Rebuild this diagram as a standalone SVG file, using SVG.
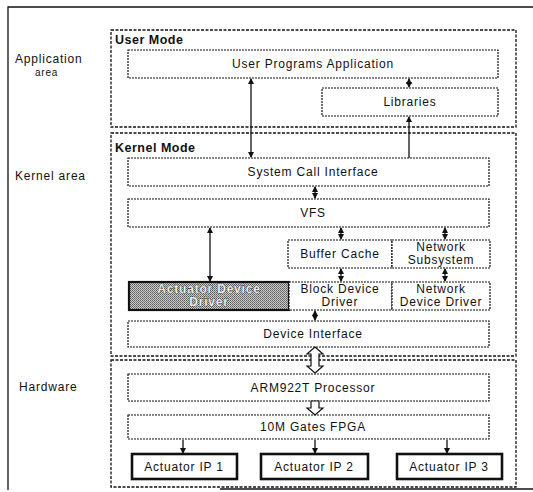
<svg xmlns="http://www.w3.org/2000/svg" width="533" height="492" viewBox="0 0 533 492">
<style>
text{font-family:"Liberation Sans",Arial,sans-serif;font-size:12px;fill:#111;letter-spacing:0.8px}
.c{text-anchor:middle}
.b{font-weight:bold;font-size:12.5px;letter-spacing:0.5px}
.w{fill:#eee;stroke:#111;stroke-width:0.7;paint-order:stroke;font-weight:bold}
.box{fill:#fff;stroke:#111;stroke-width:1.2;stroke-dasharray:2,1}
.grp{fill:#fff;stroke:#111;stroke-width:1.3;stroke-dasharray:3,1.5}
.ip{fill:#fff;stroke:#111;stroke-width:2.6}
.ln{stroke:#111;stroke-width:1.3;fill:none}
.hol{fill:#fff;stroke:#111;stroke-width:1.2}
</style>
<defs>
<marker id="ah" markerWidth="6" markerHeight="6" refX="5" refY="3" orient="auto-start-reverse" markerUnits="userSpaceOnUse">
<path d="M0,0 L6,3 L0,6 Z" fill="#111"/>
</marker>
<pattern id="dith" width="2" height="2" patternUnits="userSpaceOnUse">
<rect width="2" height="2" fill="#d0d0d0"/>
<rect width="1" height="1" fill="#555"/>
<rect x="1" y="1" width="1" height="1" fill="#777"/>
</pattern>
</defs>
<rect width="533" height="492" fill="#fff"/>
<g id="frame">
<path d="M8,490 L8,7 L533,7" class="ln" stroke-width="2"/>
<path d="M220,489 L533,489" class="ln" stroke-width="2"/>
</g>
<g id="labels">
<text x="15" y="63">Application</text>
<text x="35" y="76" style="font-size:10px">area</text>
<text x="15" y="180">Kernel area</text>
<text x="19" y="391">Hardware</text>
</g>
<g id="user-mode"><rect class="grp" x="111" y="30" width="405" height="97"/><text class="b" x="115" y="44">User Mode</text></g>
<g id="kernel-mode"><rect class="grp" x="111" y="133" width="405" height="223"/><text class="b" x="115" y="152">Kernel Mode</text></g>
<g id="hardware"><rect class="grp" x="111" y="360" width="405" height="127"/></g>
<g id="upa"><rect class="box" x="128" y="50" width="370" height="28"/><text class="c" x="313" y="68">User Programs Application</text></g>
<g id="libraries"><rect class="box" x="322" y="88" width="176" height="28"/><text class="c" x="410" y="106">Libraries</text></g>
<g id="sci"><rect class="box" x="128" y="158" width="361" height="28"/><text class="c" x="313" y="176">System Call Interface</text></g>
<g id="vfs"><rect class="box" x="128" y="199" width="361" height="28"/><text class="c" x="313" y="217">VFS</text></g>
<g id="buffer-cache"><rect class="box" x="288" y="240" width="104" height="28"/><text class="c" x="340" y="258">Buffer Cache</text></g>
<g id="network-subsystem"><rect class="box" x="392" y="240" width="98" height="28"/><text class="c" x="441" y="251">Network</text><text class="c" x="441" y="264">Subsystem</text></g>
<g id="actuator-dd"><rect x="129" y="282" width="160" height="28" fill="url(#dith)" stroke="#111" stroke-width="2.2"/><text class="c w" x="209" y="293">Actuator Device</text><text class="c w" x="209" y="306">Driver</text></g>
<g id="block-dd"><rect class="box" x="289" y="282" width="103" height="28"/><text class="c" x="340" y="293">Block Device</text><text class="c" x="340" y="306">Driver</text></g>
<g id="network-dd"><rect class="box" x="392" y="282" width="98" height="28"/><text class="c" x="441" y="293">Network</text><text class="c" x="441" y="306">Device Driver</text></g>
<g id="device-interface"><rect class="box" x="128" y="321" width="361" height="26"/><text class="c" x="313" y="338">Device Interface</text></g>
<g id="arm"><rect class="box" x="128" y="374" width="361" height="27"/><text class="c" x="313" y="392">ARM922T Processor</text></g>
<g id="fpga"><rect class="box" x="128" y="415" width="361" height="24"/><text class="c" x="313" y="431">10M Gates FPGA</text></g>
<g id="ip1"><rect class="ip" x="132" y="454" width="105" height="25"/><text class="c" x="184" y="471">Actuator IP 1</text></g>
<g id="ip2"><rect class="ip" x="261" y="454" width="107" height="25"/><text class="c" x="314" y="471">Actuator IP 2</text></g>
<g id="ip3"><rect class="ip" x="397" y="454" width="105" height="25"/><text class="c" x="449" y="471">Actuator IP 3</text></g>
<g id="connectors">
<line class="ln" x1="409" y1="79" x2="409" y2="87" marker-start="url(#ah)" marker-end="url(#ah)"/>
<line class="ln" x1="251" y1="79" x2="251" y2="157" marker-start="url(#ah)" marker-end="url(#ah)"/>
<line class="ln" x1="409" y1="158" x2="409" y2="117" marker-end="url(#ah)"/>
<line class="ln" x1="315" y1="187" x2="315" y2="198" marker-start="url(#ah)" marker-end="url(#ah)"/>
<line class="ln" x1="210" y1="228" x2="210" y2="281" marker-start="url(#ah)" marker-end="url(#ah)"/>
<line class="ln" x1="341" y1="228" x2="341" y2="239" marker-start="url(#ah)" marker-end="url(#ah)"/>
<line class="ln" x1="445" y1="228" x2="445" y2="239" marker-start="url(#ah)" marker-end="url(#ah)"/>
<line class="ln" x1="341" y1="269" x2="341" y2="281" marker-start="url(#ah)" marker-end="url(#ah)"/>
<line class="ln" x1="445" y1="269" x2="445" y2="281" marker-start="url(#ah)" marker-end="url(#ah)"/>
<line class="ln" x1="315" y1="311" x2="315" y2="320" marker-start="url(#ah)" marker-end="url(#ah)"/>
<path class="hol" d="M315,347 L323,354 L319,354 L319,366 L323,366 L315,373 L307,366 L311,366 L311,354 L307,354 Z"/>
<path class="hol" d="M311,401 L319,401 L319,408 L323,408 L315,415 L307,408 L311,408 Z"/>
<line class="ln" x1="183" y1="440" x2="183" y2="453" marker-end="url(#ah)"/>
<line class="ln" x1="315" y1="440" x2="315" y2="453" marker-end="url(#ah)"/>
<line class="ln" x1="447" y1="440" x2="447" y2="453" marker-end="url(#ah)"/>
</g>
</svg>
